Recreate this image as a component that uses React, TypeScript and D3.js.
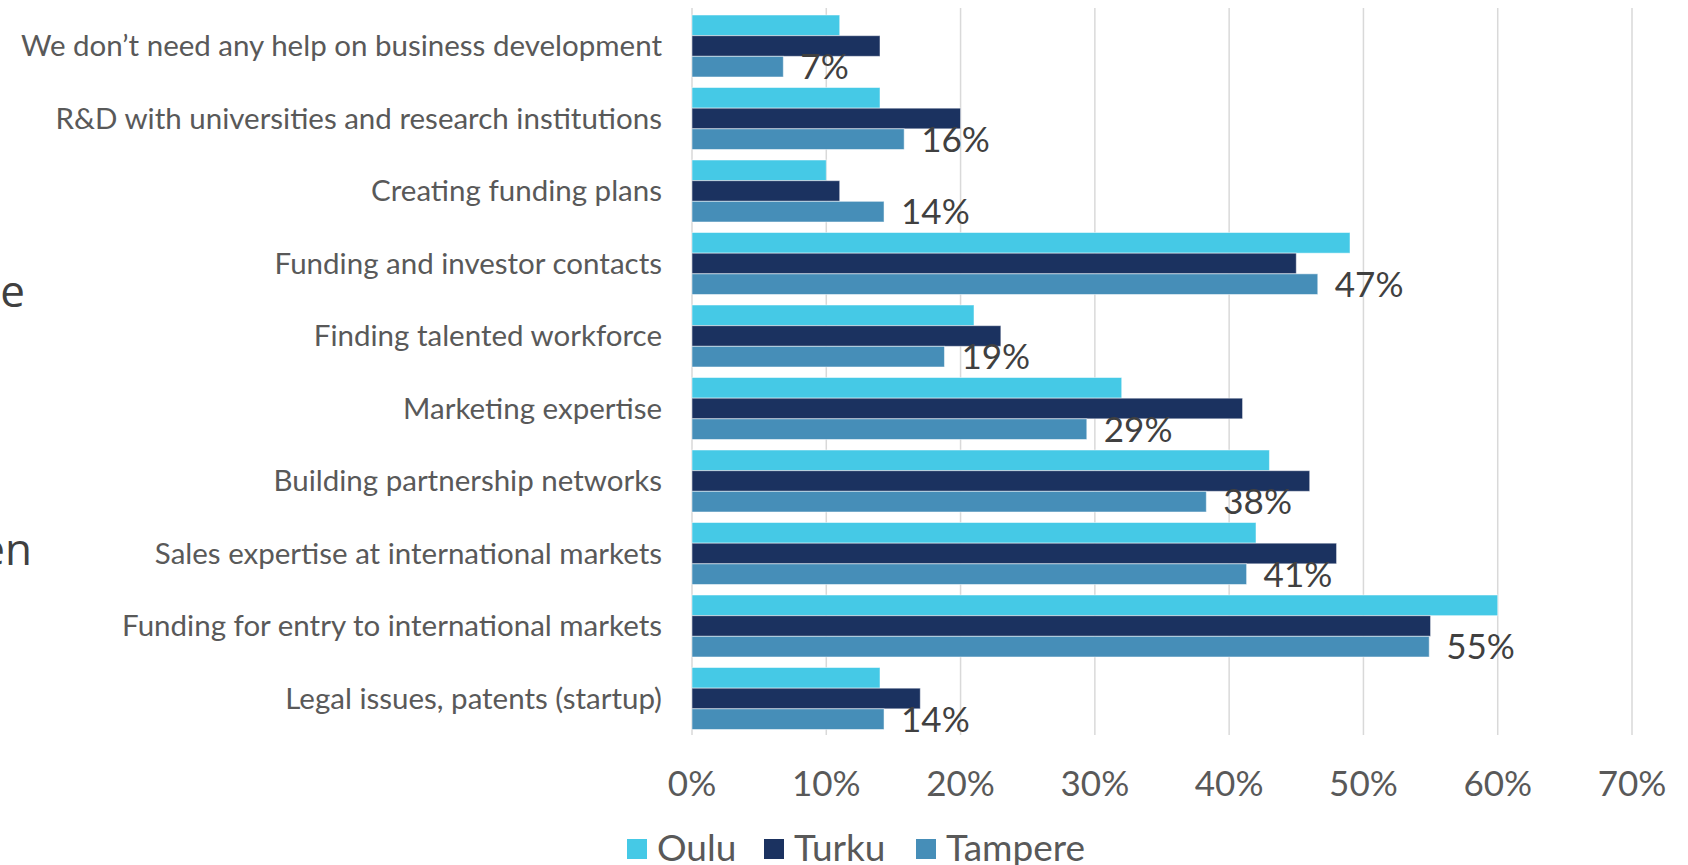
import React from 'react'
import * as d3 from 'd3'

const categories = [
  'We don\u2019t need any help on business development',
  'R&D with universities and research institutions',
  'Creating funding plans',
  'Funding and investor contacts',
  'Finding talented workforce',
  'Marketing expertise',
  'Building partnership networks',
  'Sales expertise at international markets',
  'Funding for entry to international markets',
  'Legal issues, patents (startup)',
]

const series = ['Oulu', 'Turku', 'Tampere']

const oulu = [11, 14, 10, 49, 21, 32, 43, 42, 60, 14]
const turku = [14, 20, 11, 45, 23, 41, 46, 48, 55, 17]
const tampere = [6.8, 15.8, 14.3, 46.6, 18.8, 29.4, 38.3, 41.3, 54.9, 14.3]

const xTicks = [0, 10, 20, 30, 40, 50, 60, 70]

const colors = { Oulu: '#45C9E6', Turku: '#1B3260', Tampere: '#468EB8' }

const W = 1688
const H = 865
const font = 'Lato, "Open Sans", sans-serif'

export default function App() {
  const x = d3.scaleLinear().domain([0, 70]).range([692, 1632])
  const y = d3.scaleBand<string>().domain(categories).range([9.75, 734.75]).paddingInner(0.145).paddingOuter(0.0725)
  const ySub = d3.scaleBand<string>().domain(series).range([0, y.bandwidth()])

  const values: Record<string, number[]> = { Oulu: oulu, Turku: turku, Tampere: tampere }

  const legendPos = [
    { name: 'Oulu', x: 627 },
    { name: 'Turku', x: 764 },
    { name: 'Tampere', x: 916 },
  ]

  return (
    <svg width={W} height={H} style={{ position: 'absolute', left: 0, top: 0, background: '#fff' }}>
      {/* cut-off text from the slide on the left */}
      <text x={25} y={307} textAnchor="end" fontFamily='"Open Sans", sans-serif' fontSize={44} fill="#404040">e</text>
      <text x={32} y={565} textAnchor="end" fontFamily='"Open Sans", sans-serif' fontSize={44} fill="#404040">en</text>

      {/* gridlines */}
      {xTicks.map(t => (
        <line key={t} x1={x(t)} x2={x(t)} y1={8} y2={735} stroke="#D9D9D9" strokeWidth={1.5} />
      ))}

      {/* bars */}
      {categories.map((c, i) => (
        <g key={c} transform={`translate(0,${y(c)})`}>
          {series.map(s => (
            <rect
              key={s}
              x={x(0)}
              y={ySub(s)}
              width={x(values[s][i]) - x(0)}
              height={ySub.bandwidth()}
              fill={colors[s as keyof typeof colors]}
              stroke="#ffffff"
              strokeOpacity={0.5}
              strokeWidth={1}
            />
          ))}
        </g>
      ))}

      {/* Tampere data labels */}
      {categories.map((c, i) => (
        <text
          key={c}
          x={x(tampere[i]) + 17}
          y={(y(c) ?? 0) + (ySub('Tampere') ?? 0) + ySub.bandwidth() / 2}
          dy="0.36em"
          fontFamily={font}
          fontSize={35}
          fill="#404040"
        >
          {Math.round(tampere[i])}%
        </text>
      ))}

      {/* category labels */}
      {categories.map(c => (
        <text
          key={c}
          x={662}
          y={(y(c) ?? 0) + y.bandwidth() / 2}
          dy="0.35em"
          textAnchor="end"
          fontFamily={font}
          fontSize={29.5}
          fill="#595959"
        >
          {c}
        </text>
      ))}

      {/* x tick labels */}
      {xTicks.map(t => (
        <text key={t} x={x(t)} y={796} textAnchor="middle" fontFamily={font} fontSize={35} fill="#595959">
          {t}%
        </text>
      ))}

      {/* legend */}
      {legendPos.map(l => (
        <g key={l.name}>
          <rect x={l.x} y={839} width={20} height={20} fill={colors[l.name as keyof typeof colors]} />
          <text x={l.x + 30} y={861} fontFamily={font} fontSize={37} fill="#595959">{l.name}</text>
        </g>
      ))}
    </svg>
  )
}
